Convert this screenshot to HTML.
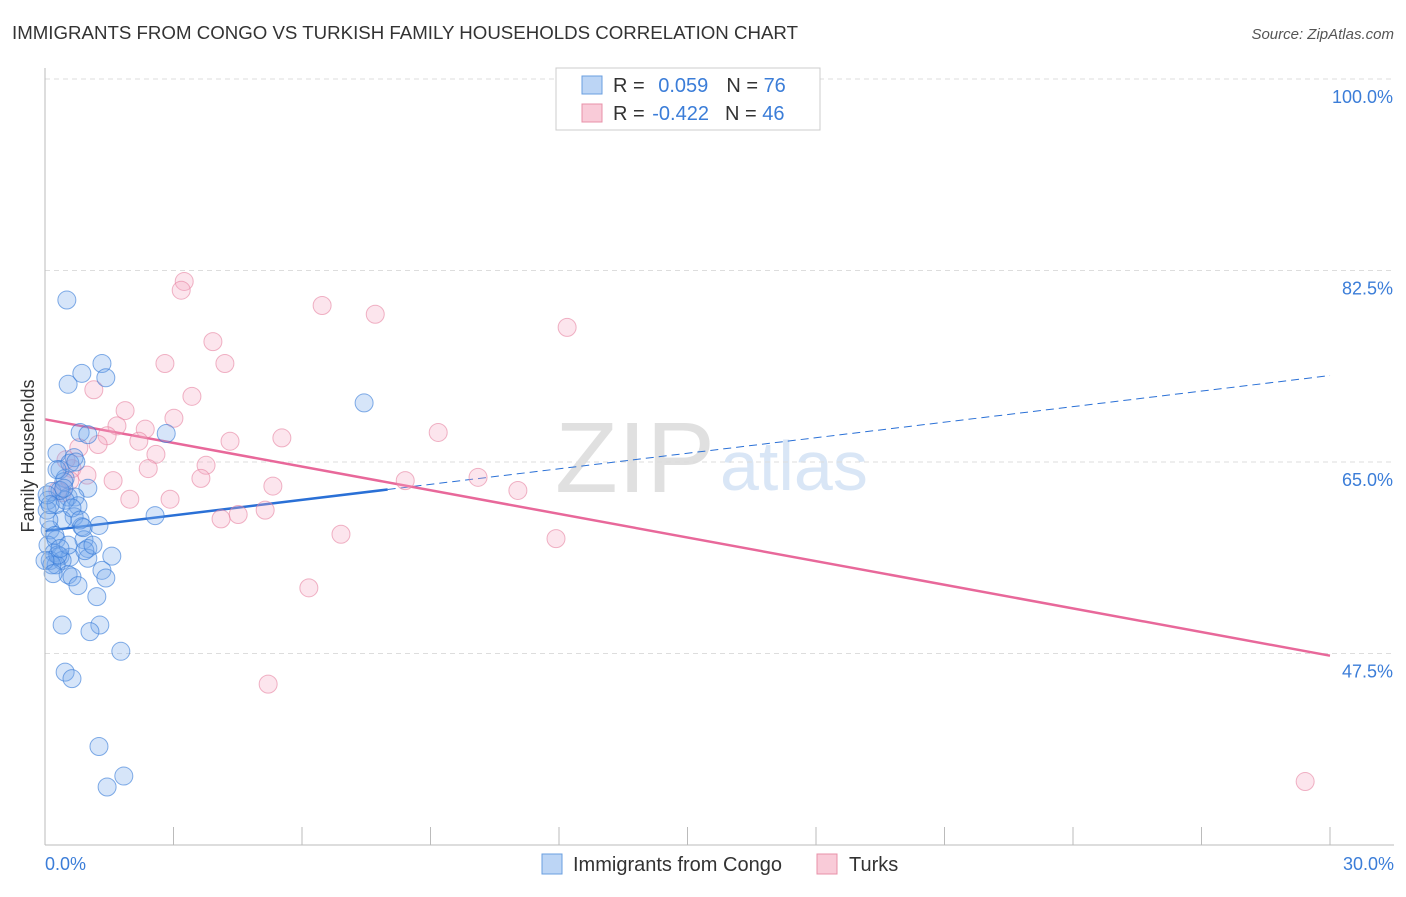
<!DOCTYPE html>
<html><head><meta charset="utf-8"><style>
body{margin:0;background:#fff;font-family:"Liberation Sans",sans-serif}
svg text{font-family:"Liberation Sans",sans-serif}
</style></head><body>
<svg width="1406" height="892" id="c">
<text x="12" y="39" font-size="18" fill="#333" textLength="786" lengthAdjust="spacingAndGlyphs">IMMIGRANTS FROM CONGO VS TURKISH FAMILY HOUSEHOLDS CORRELATION CHART</text>
<text x="1394" y="39" font-size="15" fill="#555" text-anchor="end" font-style="italic">Source: ZipAtlas.com</text>
<text x="715" y="492" font-size="100" fill="#e0e0e0" text-anchor="end" font-family="Liberation Serif" textLength="160" lengthAdjust="spacingAndGlyphs">ZIP</text>
<text x="720" y="490" font-size="70" fill="#d9e6f6">atlas</text>
<text x="34" y="456" font-size="18" fill="#333" text-anchor="middle" transform="rotate(-90 34 456)">Family Households</text>
<g id="grid"></g><g id="ticks"></g><g id="lines"></g><g id="pts"></g>
<line x1="45" y1="68" x2="45" y2="845" stroke="#bbb"/>
<line x1="45" y1="845" x2="1394" y2="845" stroke="#bbb"/>
<text x="45" y="870" font-size="18" fill="#3b7dd8">0.0%</text>
<text x="1394" y="870" font-size="18" fill="#3b7dd8" text-anchor="end">30.0%</text>
<g>
<rect x="556" y="68" width="264" height="62" fill="#fff" stroke="#ccc"/>
<rect x="582" y="76" width="20" height="18" fill="#bcd5f5" stroke="#6a9fe0"/>
<rect x="582" y="104" width="20" height="18" fill="#f9cbd8" stroke="#e890a8"/>
<text x="613" y="92" font-size="20" fill="#333">R = <tspan fill="#3b7dd8" dx="8">0.059</tspan><tspan dx="18" fill="#333">N = </tspan><tspan fill="#3b7dd8">76</tspan></text>
<text x="613" y="120" font-size="20" fill="#333">R = <tspan fill="#3b7dd8" dx="2">-0.422</tspan><tspan dx="16" fill="#333">N = </tspan><tspan fill="#3b7dd8">46</tspan></text>
</g>
<g>
<rect x="542" y="854" width="20" height="20" fill="#bcd5f5" stroke="#6a9fe0"/>
<text x="573" y="871" font-size="20" fill="#333">Immigrants from Congo</text>
<rect x="817" y="854" width="20" height="20" fill="#f9cbd8" stroke="#e890a8"/>
<text x="849" y="871" font-size="20" fill="#333">Turks</text>
</g>
</svg>
<script>
const yTicks=[100,82.5,65,47.5];
const blueX=[0.51,0.54,0.86,1.33,1.42,7.45,0.82,1.00,2.83,0.28,0.68,0.35,0.47,1.00,0.16,0.54,0.70,0.44,0.07,0.26,0.77,0.05,2.57,0.68,0.40,1.26,0.86,0.12,0.91,0.26,0.07,1.00,0.21,0.35,1.56,0.58,0.12,1.00,0.40,0.26,1.33,0.54,0.63,1.42,0.77,1.21,0.40,1.28,1.05,1.77,0.47,0.63,1.26,1.84,1.45,0.09,0.16,0.30,0.47,0.63,0.82,0.93,0.35,0.05,0.23,1.12,0.54,0.44,0.58,0.28,0.89,0.72,0.12,0.0,0.35,0.19];
const blueY=[79.8,72.1,73.1,74.0,72.7,70.4,67.7,67.5,67.6,65.8,65.4,64.3,63.5,62.6,62.3,61.8,61.8,63.2,61.5,61.1,61.0,60.6,60.1,60.0,59.7,59.2,59.1,58.8,57.9,57.9,57.4,57.1,56.7,56.4,56.4,56.3,56.0,56.2,56.0,55.6,55.1,54.7,54.5,54.4,53.7,52.7,50.1,50.1,49.5,47.7,45.8,45.2,39.0,36.3,35.3,59.7,55.6,56.5,61.5,60.8,59.7,56.9,62.4,62.0,58.3,57.4,57.4,62.6,64.9,64.3,59.0,65.0,61.1,56.0,57.1,54.8];
const pinkX=[3.25,3.18,6.47,7.71,12.19,3.92,2.80,4.20,1.14,3.43,1.87,3.01,1.68,2.34,1.45,1.24,0.79,2.19,5.53,4.32,9.18,2.59,3.76,2.41,0.63,0.98,3.64,1.59,5.32,8.41,10.11,11.04,1.98,2.92,0.40,5.14,4.51,4.11,6.91,11.93,6.16,5.21,29.42,0.49,0.30,0.58];
const pinkY=[81.5,80.7,79.3,78.5,77.3,76.0,74.0,74.0,71.6,71.0,69.7,69.0,68.3,68.0,67.4,66.6,66.3,66.9,67.2,66.9,67.7,65.7,64.7,64.4,64.4,63.8,63.5,63.3,62.8,63.3,63.6,62.4,61.6,61.6,62.2,60.6,60.2,59.8,58.4,58.0,53.5,44.7,35.8,65.2,62.4,63.3];
const blueTrend=[58.7,72.9], blueSolidEnd=8.0;
const pinkTrend=[68.9,47.3];
const NS='http://www.w3.org/2000/svg';
const X=v=>45+v/30*1285, Y=v=>79+(100-v)/17.5*191.5;
function mk(tag,attrs,parent){const e=document.createElementNS(NS,tag);for(const k in attrs)e.setAttribute(k,attrs[k]);document.getElementById(parent).appendChild(e);return e;}
yTicks.forEach(t=>{
 const g=mk('line',{x1:45,x2:1394,y1:Y(t),y2:Y(t),stroke:'#ddd','stroke-dasharray':'5,4'},'grid');
 
 
 const l=mk('text',{x:1393,y:Y(t)+24,'font-size':18,fill:'#3b7dd8','text-anchor':'end'},'grid');
 l.textContent=t.toFixed(1)+'%';
 
 
});
for(let i=0;i<=10;i++){const x=45+i*128.5;const t=mk('line',{x1:x,x2:x,y1:827,y2:845,stroke:'#bbb'},'ticks');
 
 }
function dot(x,y,f,s,n){const c=mk('circle',{cx:X(x),cy:Y(y),r:9,fill:f,stroke:s,'stroke-width':1},'pts');
 
 }
pinkX.forEach((x,i)=>dot(x,pinkY[i],'rgba(244,170,195,0.3)','rgba(230,130,160,0.6)','turks-point'));
blueX.forEach((x,i)=>dot(x,blueY[i],'rgba(120,170,235,0.3)','rgba(50,120,215,0.6)','congo-point'));
const bAt=x=>blueTrend[0]+(blueTrend[1]-blueTrend[0])*x/30;
let l1=mk('line',{x1:X(0),y1:Y(bAt(0)),x2:X(blueSolidEnd),y2:Y(bAt(blueSolidEnd)),stroke:'#2a70d6','stroke-width':2.5},'lines');


let l2=mk('line',{x1:X(blueSolidEnd),y1:Y(bAt(blueSolidEnd)),x2:X(30),y2:Y(bAt(30)),stroke:'#2a70d6','stroke-width':1,'stroke-dasharray':'8,5'},'lines');


let l3=mk('line',{x1:X(0),y1:Y(pinkTrend[0]),x2:X(30),y2:Y(pinkTrend[1]),stroke:'#e8689a','stroke-width':2.5},'lines');


</script>
</body></html>
